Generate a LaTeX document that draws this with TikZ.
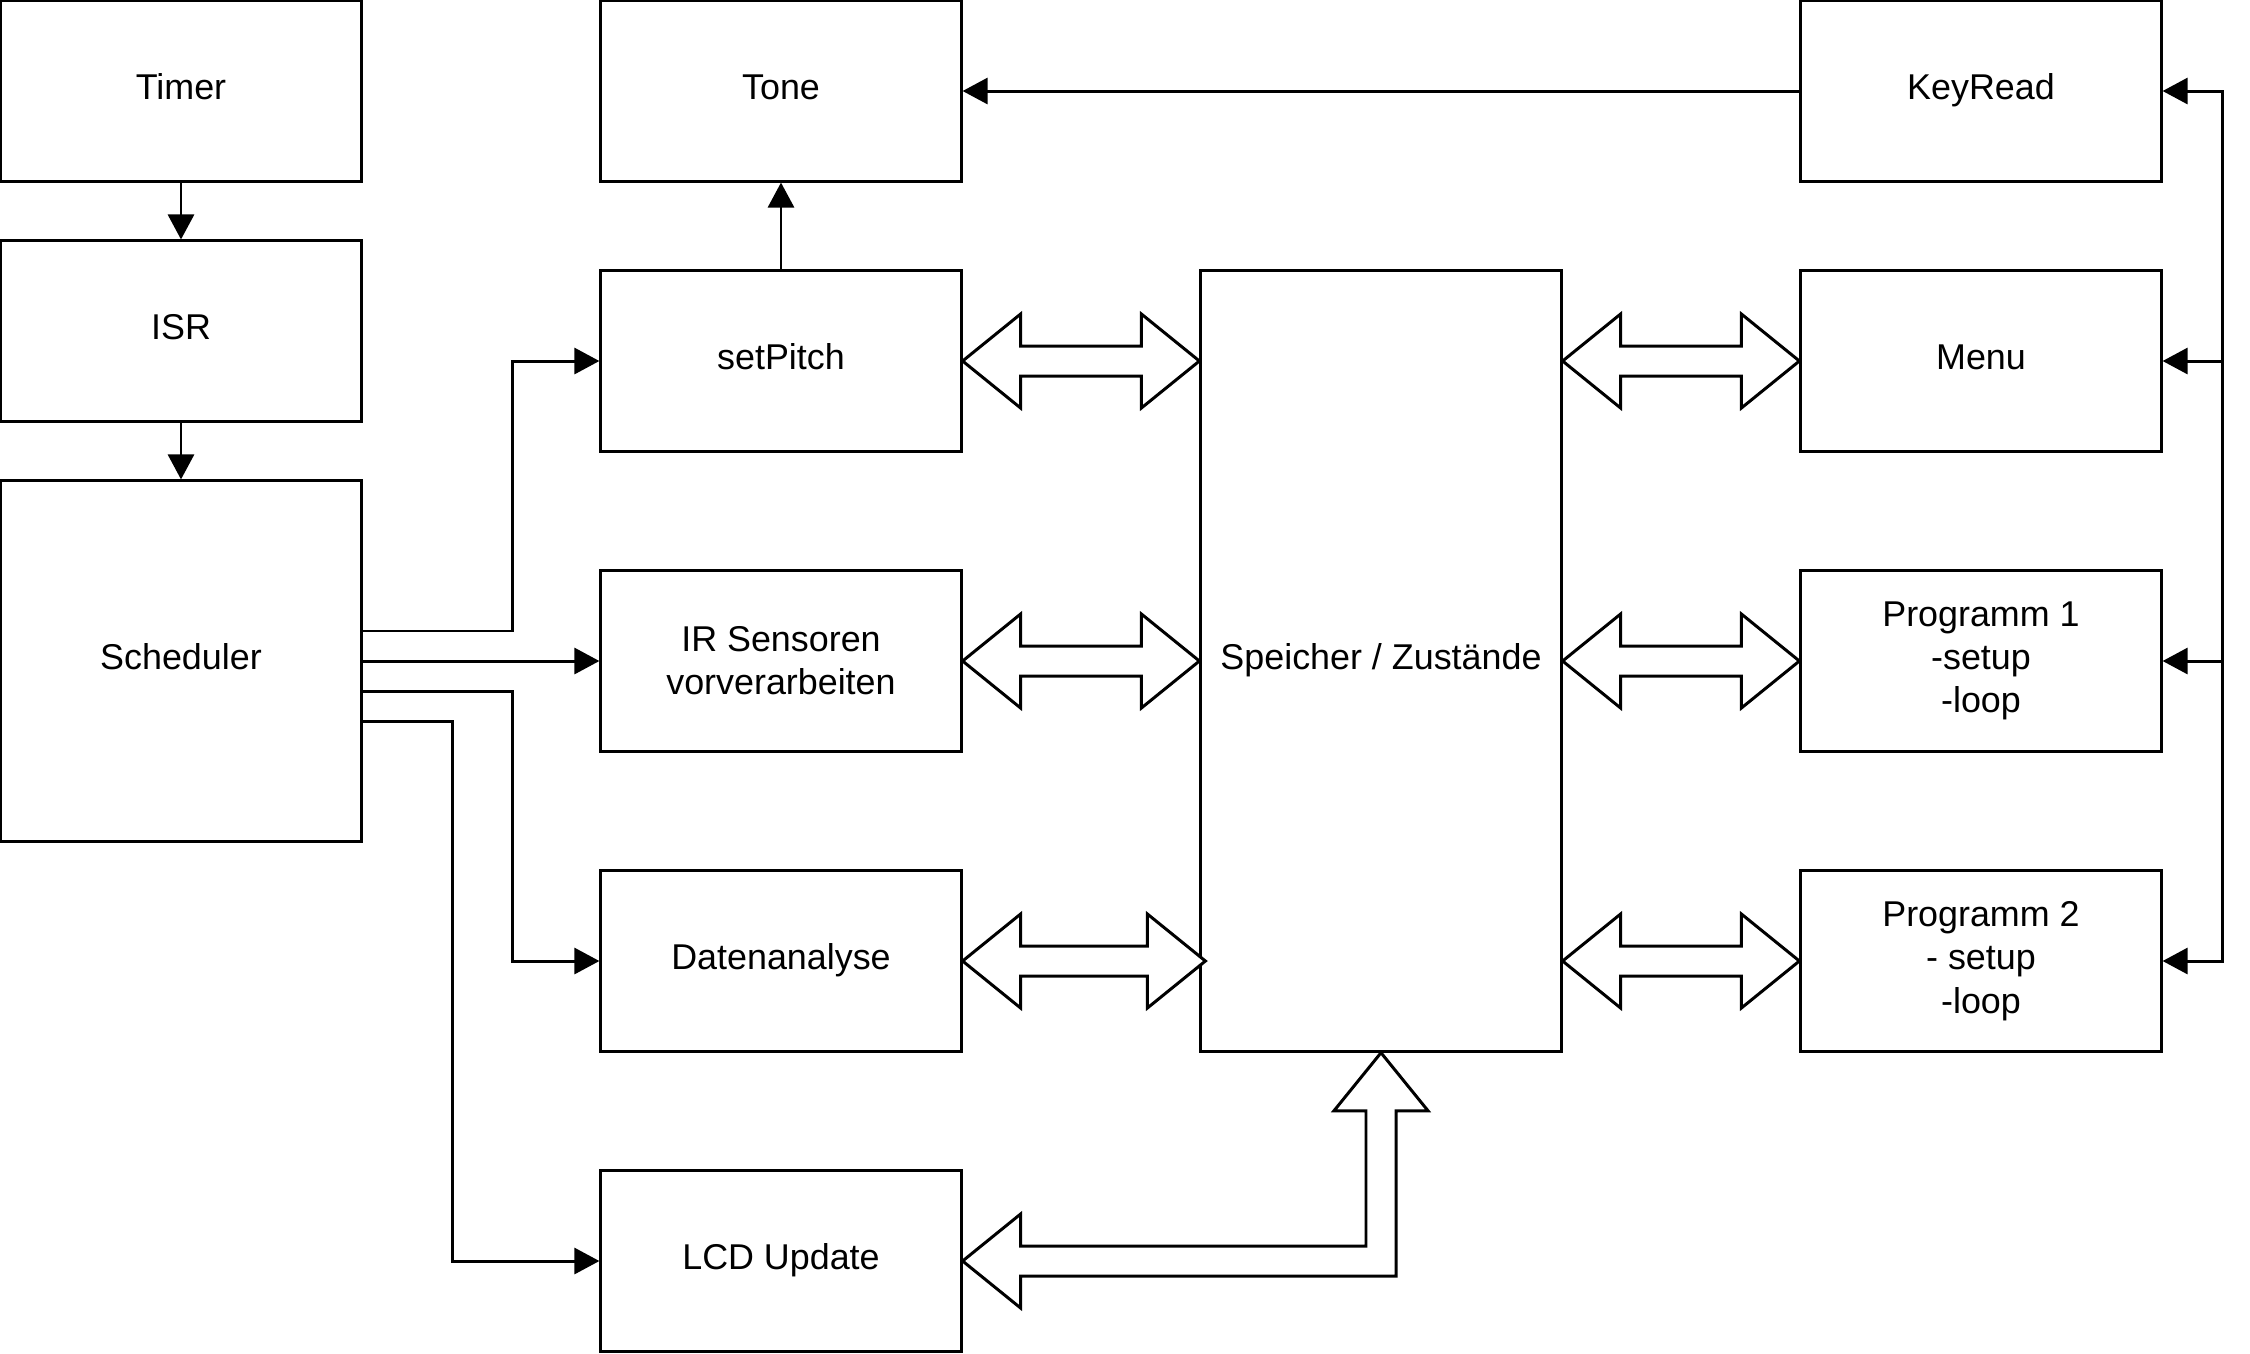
\documentclass[tikz,border=0pt]{standalone}
\usepackage{fontspec}
\setmainfont{Liberation Sans}
\usetikzlibrary{arrows.meta, calc}

\newcommand{\dblflat}[2]{%
  \draw[flat] let \p1=(#1), \p2=(#2) in
    (\x1,\y1) -- (\x1+5.8mm,\y1+4.7mm) -- (\x1+5.8mm,\y1+1.5mm)
    -- (\x2-5.8mm,\y1+1.5mm) -- (\x2-5.8mm,\y1+4.7mm) -- (\x2,\y1)
    -- (\x2-5.8mm,\y1-4.7mm) -- (\x2-5.8mm,\y1-1.5mm)
    -- (\x1+5.8mm,\y1-1.5mm) -- (\x1+5.8mm,\y1-4.7mm) -- cycle;}

\begin{document}
\begin{tikzpicture}[x=0.01cm, y=-0.01cm,
  box/.style={draw, line width=0.85pt, minimum width=3.6cm, minimum height=1.8cm,
    inner sep=0pt, align=center, font=\fontsize{10.2}{12.3}\selectfont},
  conn/.style={line width=0.85pt, -{Triangle[length=2.5mm, width=2.6mm]}},
  flat/.style={draw, fill=white, line width=0.85pt, line join=miter}]
\path[fill=white, use as bounding box] (0,0) rectangle (2250,1353);

\node[box] (timer) at (181,91) {\strut Timer};
\node[box] (isr) at (181,331) {\strut ISR};
\node[box, minimum height=3.6cm] (sched) at (181,661) {\strut Scheduler};
\node[box] (tone) at (781,91) {\strut Tone};
\node[box] (pitch) at (781,361) {\strut setPitch};
\node[box] (ir) at (781,661) {IR Sensoren\\vorverarbeiten};
\node[box] (dat) at (781,961) {\strut Datenanalyse};
\node[box] (lcd) at (781,1261) {\strut LCD Update};
\node[box, minimum height=7.8cm] (mem) at (1381,661) {\strut Speicher / Zustände};
\node[box] (key) at (1981,91) {\strut KeyRead};
\node[box] (menu) at (1981,361) {\strut Menu};
\node[box] (prog1) at (1981,661) {Programm 1\\-setup\\-loop};
\node[box] (prog2) at (1981,961) {Programm 2\\- setup\\-loop};

\draw[conn] (timer) -- (isr);
\draw[conn] (isr) -- (sched);
\draw[conn] (pitch) -- (tone);
\draw[conn] (key) -- (tone);

\draw[conn] ([yshift=3mm]sched.east) -- ++(1.5cm,0) |- (pitch.west);
\draw[conn] (sched.east) -- (ir.west);
\draw[conn] ([yshift=-3mm]sched.east) -- ++(1.5cm,0) |- (dat.west);
\draw[conn] ([yshift=-6mm]sched.east) -- ++(0.9cm,0) |- (lcd.west);

\draw[conn, {Triangle[length=2.5mm, width=2.6mm]}-{Triangle[length=2.5mm, width=2.6mm]}]
  (key.east) -- ++(6mm,0) |- (prog2.east);
\foreach \n in {menu, prog1}
  \draw[conn] ([xshift=6mm]\n.east) -- (\n.east);

\dblflat{pitch.east}{pitch.east -| mem.west}
\dblflat{ir.east}{ir.east -| mem.west}
\dblflat{dat.east}{$(dat.east -| mem.west)+(0.06cm,0)$}
\dblflat{menu.east -| mem.east}{menu.west}
\dblflat{prog1.east -| mem.east}{prog1.west}
\dblflat{prog2.east -| mem.east}{prog2.west}

\draw[flat] let \p1=(lcd.east), \p2=(mem.south) in
  (\x1,\y1) -- (\x1+5.8mm,\y1+4.7mm) -- (\x1+5.8mm,\y1+1.5mm)
  -- (\x2-1.5mm,\y1+1.5mm) -- (\x2-1.5mm,\y2-5.8mm) -- (\x2-4.7mm,\y2-5.8mm)
  -- (\x2,\y2) -- (\x2+4.7mm,\y2-5.8mm) -- (\x2+1.5mm,\y2-5.8mm)
  -- (\x2+1.5mm,\y1-1.5mm) -- (\x1+5.8mm,\y1-1.5mm) -- (\x1+5.8mm,\y1-4.7mm) -- cycle;
\end{tikzpicture}
\end{document}
